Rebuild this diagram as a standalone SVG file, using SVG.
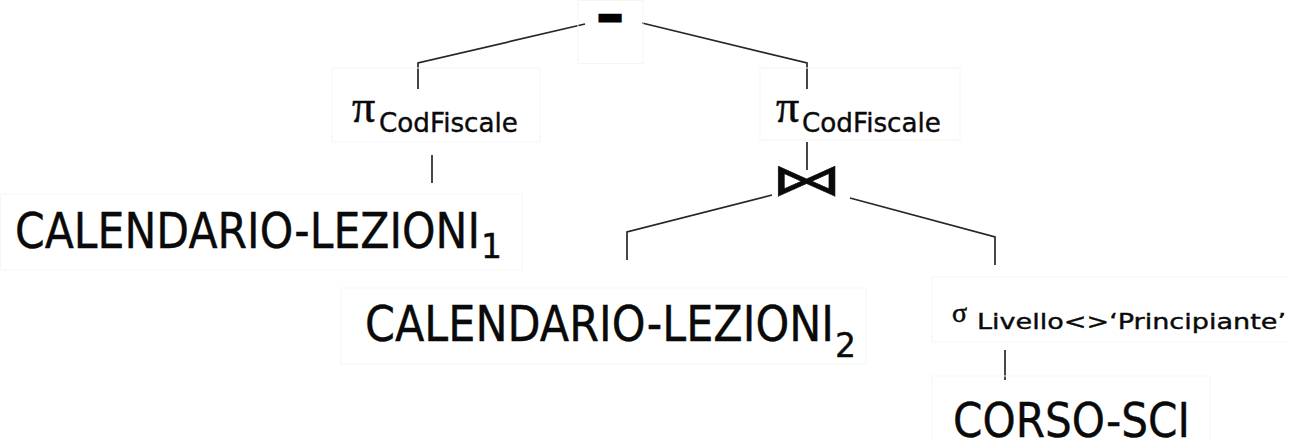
<svg xmlns="http://www.w3.org/2000/svg" width="1289" height="440" viewBox="0 0 1289 440">
<style>
.bg{fill:#ffffff}
.frame{fill:none;stroke:#f5f5f5;stroke-width:1}
.lbl{font-family:"DejaVu Sans","Liberation Sans",sans-serif;fill:#0a0a0a;stroke:#0a0a0a;stroke-width:0.4}
.sym{font-family:"Liberation Serif","DejaVu Serif",serif;fill:#0a0a0a;stroke:#0a0a0a;stroke-width:0.5}
.conn{fill:none;stroke:#262626;stroke-width:1.7;stroke-linejoin:miter}
</style>
<rect class="bg" x="0" y="0" width="1289" height="440"/>
<g id="connectors">
<path class="conn" d="M585,24 L418,63 L418,89"/>
<path class="conn" d="M642,23 L807,63 L807,89"/>
<path class="conn" d="M432,155 L432,183"/>
<path class="conn" d="M807,142 L807,170"/>
<path class="conn" d="M772,195 L627,232 L627,260"/>
<path class="conn" d="M850,198 L995,237 L995,265"/>
<path class="conn" d="M1005,350 L1005,380"/>
</g>
<g id="node-difference">
<rect class="frame" x="578" y="0.5" width="65" height="63"/>
<text x="0" y="0" transform="translate(610,26) scale(1.75,1)" font-family="DejaVu Sans, sans-serif" font-size="27" font-weight="bold" fill="#000" stroke="#000" stroke-width="5" text-anchor="middle">-</text>
</g>
<g id="node-proj-left">
<rect class="frame" x="332" y="68" width="208" height="74"/>
<text class="sym" x="352" y="122" font-size="46">π</text>
<text class="lbl" x="379" y="132" font-size="27" textLength="139" lengthAdjust="spacingAndGlyphs">CodFiscale</text>
</g>
<g id="node-proj-right">
<rect class="frame" x="760" y="68" width="200" height="72"/>
<text class="sym" x="776" y="122" font-size="46">π</text>
<text class="lbl" x="802" y="132" font-size="27" textLength="139" lengthAdjust="spacingAndGlyphs">CodFiscale</text>
</g>
<g id="node-cal1">
<rect class="frame" x="0.5" y="194" width="522" height="76"/>
<text class="lbl" x="15" y="248" font-size="49"><tspan textLength="465" lengthAdjust="spacingAndGlyphs">CALENDARIO-LEZIONI</tspan><tspan font-size="33" dx="1" dy="10">1</tspan></text>
</g>
<g id="node-join">
<text class="lbl" x="807" y="195" font-size="44" text-anchor="middle" textLength="72" lengthAdjust="spacingAndGlyphs">⋈</text>
</g>
<g id="node-cal2">
<rect class="frame" x="341" y="288" width="525" height="76"/>
<text class="lbl" x="365" y="341" font-size="49"><tspan textLength="469" lengthAdjust="spacingAndGlyphs">CALENDARIO-LEZIONI</tspan><tspan font-size="33" dx="1" dy="16">2</tspan></text>
</g>
<g id="node-select">
<rect class="frame" x="932" y="277" width="360" height="65"/>
<text class="sym" x="952" y="322" font-size="28">σ</text>
<text class="lbl" x="977" y="329" font-size="22" textLength="309" lengthAdjust="spacingAndGlyphs">Livello&lt;&gt;‘Principiante’</text>
</g>
<g id="node-corso">
<rect class="frame" x="932" y="376" width="278" height="70"/>
<text class="lbl" x="953" y="437" font-size="48" textLength="237" lengthAdjust="spacingAndGlyphs">CORSO-SCI</text>
</g>
</svg>
